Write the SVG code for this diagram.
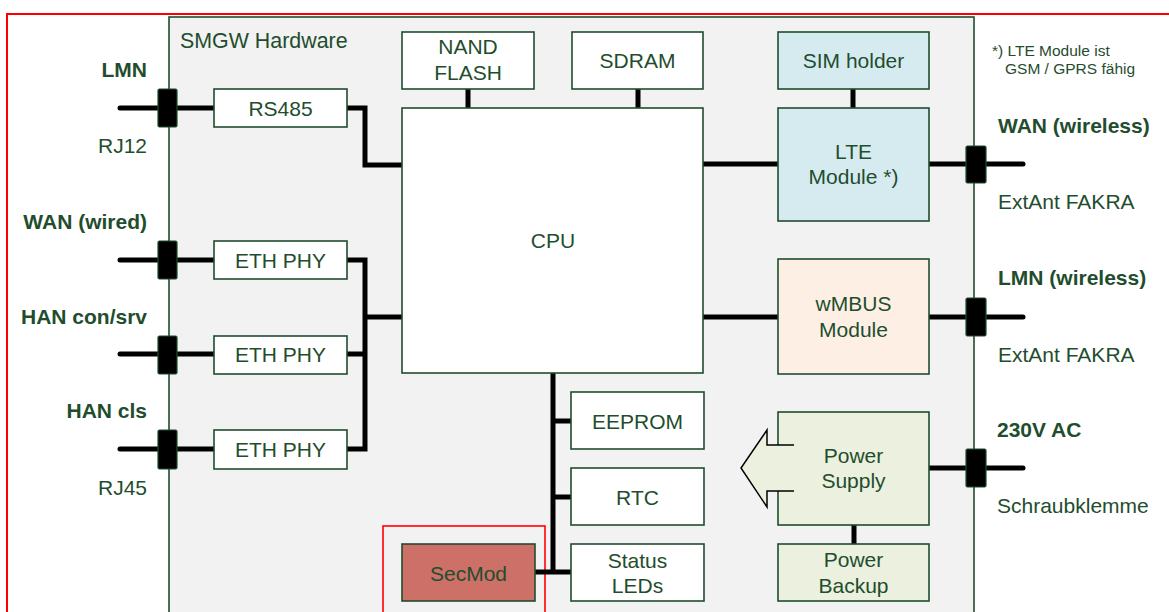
<svg xmlns="http://www.w3.org/2000/svg" width="1169" height="612" viewBox="0 0 1169 612">
<style>
text{font-family:"Liberation Sans",Arial,sans-serif;fill:#1f4d2e;font-size:21px}
.b{font-weight:bold}
.c{text-anchor:middle}
.e{text-anchor:end}
.sm{font-size:15.5px}
.box{stroke:#1f4d2e;stroke-width:1.6}
.w{fill:#ffffff}
.plug{fill:#000;stroke:#1f4d2e;stroke-width:1.2}
.wire{fill:none;stroke:#000;stroke-width:5}
.ext{fill:none;stroke:#000;stroke-width:5;stroke-linecap:round}
</style>
<rect x="7" y="14" width="1180" height="620" fill="#ffffff" stroke="#ff0000" stroke-width="2"/>
<g id="smgw">
<rect x="169" y="17" width="805" height="620" fill="#f2f2f2" stroke="#1f4d2e" stroke-width="1.6"/>
<text x="180" y="48" style="font-size:21.4px">SMGW Hardware</text>
</g>
<rect id="secmod-frame" x="383" y="526" width="162" height="100" fill="none" stroke="#ff0000" stroke-width="1.6"/>
<g id="connectors">
<path class="ext" d="M120,108 H214"/>
<path class="ext" d="M120,260 H214"/>
<path class="ext" d="M120,354 H214"/>
<path class="ext" d="M120,449 H214"/>
<path class="wire" d="M347,108 H365 V165 H402"/>
<path class="wire" d="M347,260 H365 V449 H347"/>
<path class="wire" d="M347,354 H365"/>
<path class="wire" d="M365,317 H402"/>
<path class="wire" d="M468,89 V108"/>
<path class="wire" d="M638,89 V108"/>
<path class="wire" d="M853,89 V108"/>
<path class="wire" d="M703,164 H778"/>
<path class="wire" d="M703,317 H778"/>
<path class="ext" d="M929,164 H1023"/>
<path class="ext" d="M929,317 H1023"/>
<path class="ext" d="M929,468 H1023"/>
<path class="wire" d="M854,525 V544"/>
<path class="wire" d="M553,373 V574"/>
<path class="wire" d="M553,421 H571"/>
<path class="wire" d="M553,497 H571"/>
<path class="wire" d="M535,572 H571"/>
</g>
<g id="plugs">
<rect class="plug" x="158" y="89" width="19" height="38" rx="1.5"/>
<rect class="plug" x="158" y="241" width="19" height="38" rx="1.5"/>
<rect class="plug" x="158" y="336" width="19" height="38" rx="1.5"/>
<rect class="plug" x="158" y="430" width="19" height="39" rx="1.5"/>
<rect class="plug" x="966" y="146" width="20" height="37" rx="1.5"/>
<rect class="plug" x="966" y="298" width="20" height="38" rx="1.5"/>
<rect class="plug" x="966" y="449" width="20" height="38" rx="1.5"/>
</g>
<g id="labels-left">
<text class="b e" x="147" y="77">LMN</text>
<text class="e" x="147" y="153">RJ12</text>
<text class="b e" x="147" y="229">WAN (wired)</text>
<text class="b e" x="147" y="324">HAN con/srv</text>
<text class="b e" x="147" y="418">HAN cls</text>
<text class="e" x="147" y="495">RJ45</text>
</g>
<g id="labels-right">
<text class="sm" x="992" y="56">*) LTE Module ist</text>
<text class="sm" x="1005" y="74">GSM / GPRS fähig</text>
<text class="b" x="998" y="133">WAN (wireless)</text>
<text x="998" y="209">ExtAnt FAKRA</text>
<text class="b" x="998" y="285">LMN (wireless)</text>
<text x="998" y="362">ExtAnt FAKRA</text>
<text class="b" x="997" y="437">230V AC</text>
<text x="997" y="513">Schraubklemme</text>
</g>
<g id="rs485"><rect class="box w" x="214" y="89" width="133" height="38"/><text class="c" x="280.5" y="115.5">RS485</text></g>
<g id="eth1"><rect class="box w" x="214" y="241" width="133" height="38"/><text class="c" x="280.5" y="267.5">ETH PHY</text></g>
<g id="eth2"><rect class="box w" x="214" y="336" width="133" height="38"/><text class="c" x="280.5" y="361.5">ETH PHY</text></g>
<g id="eth3"><rect class="box w" x="214" y="430" width="133" height="39"/><text class="c" x="280.5" y="456.5">ETH PHY</text></g>
<g id="nand"><rect class="box w" x="402" y="32" width="132" height="57"/><text class="c" x="468" y="54">NAND</text><text class="c" x="468" y="80">FLASH</text></g>
<g id="sdram"><rect class="box w" x="572" y="32" width="131" height="57"/><text class="c" x="637.5" y="67.5">SDRAM</text></g>
<g id="cpu"><rect class="box w" x="402" y="108" width="301" height="265"/><text class="c" x="553" y="248">CPU</text></g>
<g id="sim"><rect class="box" fill="#d6ebf0" x="778" y="32" width="151" height="57"/><text class="c" x="853.5" y="67.5">SIM holder</text></g>
<g id="lte"><rect class="box" fill="#d6ebf0" x="778" y="108" width="151" height="113"/><text class="c" x="853.5" y="159">LTE</text><text class="c" x="853.5" y="184">Module *)</text></g>
<g id="wmbus"><rect class="box" fill="#fdefe4" x="778" y="259" width="151" height="115"/><text class="c" x="853.5" y="311">wMBUS</text><text class="c" x="853.5" y="337">Module</text></g>
<g id="eeprom"><rect class="box w" x="571" y="392" width="133" height="57"/><text class="c" x="637.5" y="428.5">EEPROM</text></g>
<g id="rtc"><rect class="box w" x="571" y="468" width="133" height="57"/><text class="c" x="637.5" y="504.5">RTC</text></g>
<g id="status"><rect class="box w" x="571" y="544" width="133" height="57"/><text class="c" x="637.5" y="568">Status</text><text class="c" x="637.5" y="593">LEDs</text></g>
<g id="secmod"><rect class="box" fill="#cc7068" x="402" y="544" width="133" height="57"/><text class="c" x="468.5" y="580.5">SecMod</text></g>
<g id="psu">
<rect class="box" fill="#ebf1de" x="778" y="412" width="151" height="113"/>
<polygon points="794,445 767,445 767,430 741,468 767,507 767,491 794,491" fill="#ebf1de"/>
<polyline points="794,445 767,445 767,430 741,468 767,507 767,491 794,491" fill="none" stroke="#000" stroke-width="1.5"/>
<text class="c" x="853.5" y="463">Power</text><text class="c" x="853.5" y="488">Supply</text>
</g>
<g id="backup"><rect class="box" fill="#ebf1de" x="778" y="544" width="151" height="57"/><text class="c" x="853.5" y="567">Power</text><text class="c" x="853.5" y="593">Backup</text></g>
</svg>
